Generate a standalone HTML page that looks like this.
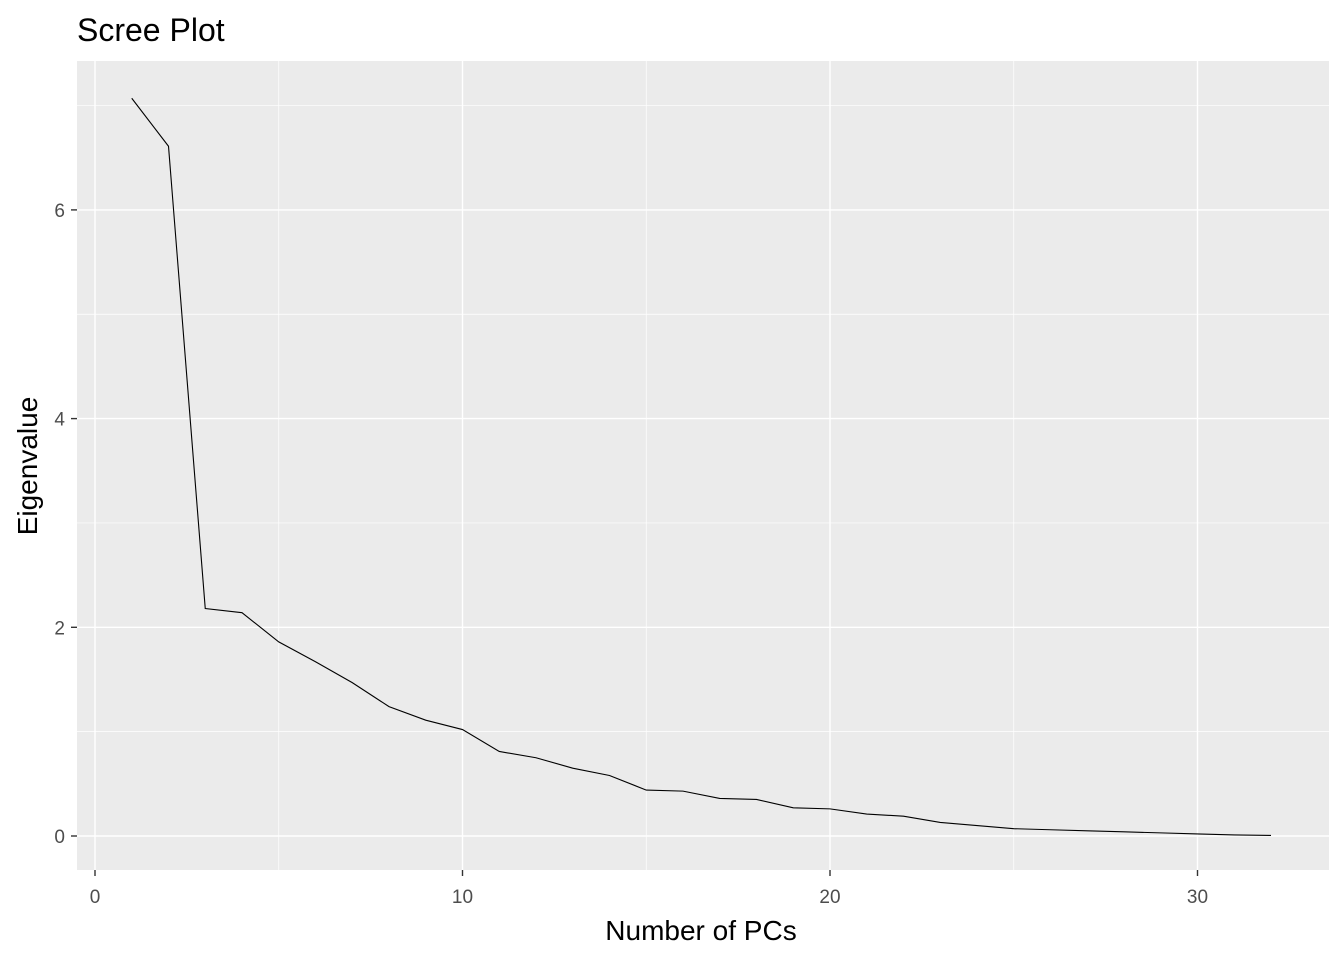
<!DOCTYPE html>
<html><head><meta charset="utf-8"><style>
body{margin:0;background:#fff}
svg{display:block;font-family:"Liberation Sans",Arial,sans-serif}
</style></head><body>
<svg id="chart" width="1344" height="960">
<rect x="0" y="0" width="1344" height="960" fill="#fff"/>
<text x="77" y="41" font-size="32" fill="#000">Scree Plot</text>
<rect x="77" y="61" width="1252" height="809" fill="#ebebeb"/>
<g id="grid"></g>
<g id="axes"></g>
<path id="line" fill="none" stroke="#000" stroke-width="1.1"/>
<text x="701" y="940" font-size="28" text-anchor="middle" fill="#000">Number of PCs</text>
<text transform="translate(37,466) rotate(-90)" font-size="28" text-anchor="middle" fill="#000">Eigenvalue</text>
</svg>
<script>
const pcs=[1,2,3,4,5,6,7,8,9,10,11,12,13,14,15,16,17,18,19,20,21,22,23,24,25,26,27,28,29,30,31,32];
const eigenvalues=[7.07,6.61,2.18,2.14,1.86,1.67,1.47,1.24,1.11,1.02,0.81,0.75,0.65,0.58,0.44,0.43,0.36,0.35,0.27,0.26,0.21,0.19,0.13,0.10,0.07,0.06,0.05,0.04,0.03,0.02,0.01,0.005];
const xTicks=[0,10,20,30];
const yTicks=[0,2,4,6];
const xMinor=[5,15,25];
const yMinor=[1,3,5,7];
const X=v=>95+v*36.75;
const Y=v=>836-v*104.35;
const ns="http://www.w3.org/2000/svg";
const grid=document.getElementById('grid'),axes=document.getElementById('axes');
function ln(p,x1,y1,x2,y2,w,c,name){const l=document.createElementNS(ns,'line');
l.setAttribute('x1',x1);l.setAttribute('y1',y1);l.setAttribute('x2',x2);l.setAttribute('y2',y2);
l.setAttribute('stroke',c);l.setAttribute('stroke-width',w);


p.appendChild(l);}
function tx(x,y,s,anchor,name){const t=document.createElementNS(ns,'text');
t.setAttribute('x',x);t.setAttribute('y',y);t.setAttribute('font-size','19');t.setAttribute('fill','#4d4d4d');t.setAttribute('text-anchor',anchor);t.textContent=s;


axes.appendChild(t);}
xMinor.forEach(v=>ln(grid,X(v),61,X(v),870,0.7,'#fff','x-minor-gridline'));
yMinor.forEach(v=>ln(grid,77,Y(v),1329,Y(v),0.7,'#fff','y-minor-gridline'));
xTicks.forEach(v=>{ln(grid,X(v),61,X(v),870,1.4,'#fff','x-major-gridline');ln(axes,X(v),870,X(v),876,1.4,'#333','x-tick');tx(X(v),903,String(v),'middle','x-tick-label');});
yTicks.forEach(v=>{ln(grid,77,Y(v),1329,Y(v),1.4,'#fff','y-major-gridline');ln(axes,71,Y(v),77,Y(v),1.4,'#333','y-tick');tx(65,Y(v)+7,String(v),'end','y-tick-label');});
document.getElementById('line').setAttribute('d',pcs.map((p,i)=>(i?'L':'M')+X(p)+','+Y(eigenvalues[i])).join(''));
</script>
</body></html>
